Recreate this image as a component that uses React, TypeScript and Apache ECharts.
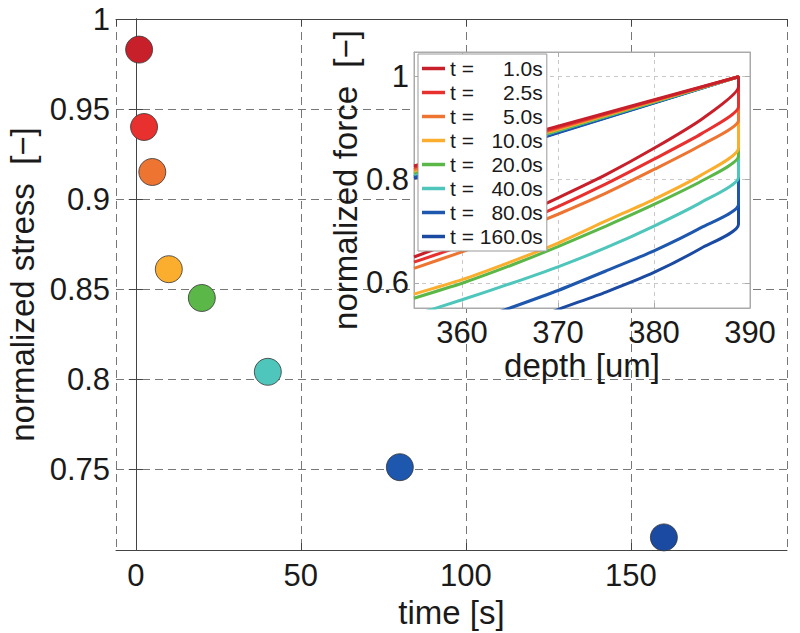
import React, { useEffect, useRef } from "react";
import * as echarts from "echarts";

// ---- main chart data ----
const timeValues = [1, 2.5, 5, 10, 20, 40, 80, 160];
const stressValues = [0.983, 0.94, 0.915, 0.861, 0.845, 0.804, 0.751, 0.712];
const seriesColors = ["#c8202b", "#e8302f", "#ee7432", "#fbad2e", "#5bb848", "#4ec6bb", "#1e57ae", "#1a4aa2"];
const legendLabels = ["t =     1.0s", "t =     2.5s", "t =     5.0s", "t =   10.0s", "t =   20.0s", "t =   40.0s", "t =   80.0s", "t = 160.0s"];

// ---- inset data (normalized force vs depth) ----
const loadDepth = [355, 370, 388.8];
const loadT1 = [0.827, 0.904, 1.0];
const loadT2 = [0.824, 0.902, 1.0];
const loadT5 = [0.82, 0.9, 1.0];
const loadT10 = [0.817, 0.898, 1.0];
const loadT20 = [0.813, 0.896, 1.0];
const loadT40 = [0.81, 0.895, 1.0];
const loadT80 = [0.806, 0.892, 1.0];
const loadT160 = [0.803, 0.891, 1.0];

const unloadDepth = [388.8, 385, 380, 375, 370, 365, 360, 355];
const unloadT1 = [0.98, 0.918, 0.861, 0.81, 0.765, 0.722, 0.685, 0.65];
const unloadT2 = [0.941, 0.89, 0.84, 0.792, 0.748, 0.708, 0.672, 0.64];
const unloadT5 = [0.915, 0.868, 0.82, 0.774, 0.733, 0.695, 0.66, 0.628];
const unloadT10 = [0.861, 0.81, 0.762, 0.72, 0.677, 0.64, 0.606, 0.578];
const unloadT20 = [0.846, 0.798, 0.752, 0.71, 0.67, 0.633, 0.599, 0.57];
const unloadT40 = [0.805, 0.757, 0.71, 0.668, 0.631, 0.598, 0.567, 0.537];
const unloadT80 = [0.752, 0.708, 0.662, 0.623, 0.585, 0.551, 0.518, 0.485];
const unloadT160 = [0.713, 0.668, 0.62, 0.582, 0.548, 0.512, 0.475, 0.44];

const loadSets = [loadT1, loadT2, loadT5, loadT10, loadT20, loadT40, loadT80, loadT160];
const unloadSets = [unloadT1, unloadT2, unloadT5, unloadT10, unloadT20, unloadT40, unloadT80, unloadT160];

const FONT = "Liberation Sans, Arial, Helvetica, sans-serif";
const TXT = "#1a1a1a";

export default function App() {
  const ref = useRef<HTMLDivElement>(null);

  useEffect(() => {
    if (!ref.current) return;
    const chart = echarts.init(ref.current, undefined, { renderer: "svg" });

    const names = legendLabels;

    const insetSeries = names.map((name, i) => {
      const data: number[][] = [];
      loadDepth.forEach((d, k) => data.push([d, loadSets[i][k]]));
      unloadDepth.forEach((d, k) => data.push([d, unloadSets[i][k]]));
      return {
        name,
        type: "line",
        xAxisIndex: 2,
        yAxisIndex: 2,
        symbol: "none",
        showSymbol: false,
        smooth: 0.2,
        clip: true,
        z: 13 - i,
        color: seriesColors[i],
        itemStyle: { color: seriesColors[i] },
        lineStyle: { color: seriesColors[i], width: 3 },
        data,
      };
    });

    const mainAxisLine = { show: true, lineStyle: { color: "#444", width: 1 } };
    const mainTick = { show: true, inside: true, length: 7, lineStyle: { color: "#444" } };
    const mainSplit = { show: true, lineStyle: { color: "#777", type: [8, 5], width: 1 } };
    const insetAxisLine = { show: true, lineStyle: { color: "#aaa", width: 1 } };
    const insetTick = { show: true, inside: true, length: 5, lineStyle: { color: "#aaa" } };
    const insetSplit = { show: true, lineStyle: { color: "#c8c8c8", type: [4, 4], width: 1 } };
    const tickLabel = { fontSize: 31, color: TXT, fontFamily: FONT };
    const nameStyle = { fontSize: 33, color: TXT, fontFamily: FONT };

    const option: any = {
      animation: false,
      backgroundColor: "#fff",
      textStyle: { fontFamily: FONT },
      grid: [
        { left: 116, top: 19, right: 13, bottom: 83, show: false, outerBoundsMode: "none", containLabel: false },
        {
          left: 414, top: 52, width: 336, height: 256, show: true, z: 3,
          backgroundColor: "#fff", borderColor: "#aaa", borderWidth: 1,
          outerBoundsMode: "none", containLabel: false,
        },
      ],
      xAxis: [
        {
          type: "value", gridIndex: 0, position: "bottom", min: -6, max: 197.3,
          minInterval: 50, maxInterval: 50,
          axisLine: mainAxisLine, axisTick: mainTick, splitLine: mainSplit,
          axisLabel: { ...tickLabel, margin: 10, showMinLabel: false, showMaxLabel: false },
          name: "time [s]", nameLocation: "middle", nameGap: 40, nameTextStyle: nameStyle,
        },
        {
          type: "value", gridIndex: 0, position: "top", min: -6, max: 197.3,
          minInterval: 50, maxInterval: 50,
          axisLine: mainAxisLine, axisTick: mainTick, splitLine: { show: false },
          axisLabel: { show: false },
        },
        {
          type: "value", gridIndex: 1, position: "bottom", min: 355, max: 390,
          minInterval: 10, maxInterval: 10, z: 4,
          axisLine: insetAxisLine, axisTick: insetTick, splitLine: insetSplit,
          axisLabel: { ...tickLabel, margin: 9, showMinLabel: false, showMaxLabel: true },
          name: "depth [um]", nameLocation: "middle", nameGap: 36, nameTextStyle: nameStyle,
        },
        {
          type: "value", gridIndex: 1, position: "top", min: 355, max: 390,
          minInterval: 10, maxInterval: 10, z: 4,
          axisLine: insetAxisLine, axisTick: insetTick, splitLine: { show: false },
          axisLabel: { show: false },
        },
      ],
      yAxis: [
        {
          type: "value", gridIndex: 0, position: "left", min: 0.705, max: 1,
          minInterval: 0.05, maxInterval: 0.05,
          axisLine: mainAxisLine, axisTick: mainTick, splitLine: mainSplit,
          axisLabel: { ...tickLabel, margin: 6, showMinLabel: false, showMaxLabel: true },
          name: "normalized stress  [\u2212]", nameLocation: "middle", nameRotate: 90, nameGap: 76,
          nameTextStyle: nameStyle,
        },
        {
          type: "value", gridIndex: 0, position: "right", min: 0.705, max: 1,
          minInterval: 0.05, maxInterval: 0.05,
          axisLine: mainAxisLine, axisTick: mainTick, splitLine: { show: false },
          axisLabel: { show: false },
        },
        {
          type: "value", gridIndex: 1, position: "left", min: 0.551, max: 1.048,
          minInterval: 0.2, maxInterval: 0.2, z: 4,
          axisLine: insetAxisLine, axisTick: insetTick, splitLine: insetSplit,
          axisLabel: { ...tickLabel, margin: 5, showMinLabel: false, showMaxLabel: false },
          name: "normalized force  [\u2212]", nameLocation: "middle", nameRotate: 90, nameGap: 50,
          nameTextStyle: nameStyle,
        },
        {
          type: "value", gridIndex: 1, position: "right", min: 0.551, max: 1.048,
          minInterval: 0.2, maxInterval: 0.2, z: 4,
          axisLine: insetAxisLine, axisTick: insetTick, splitLine: { show: false },
          axisLabel: { show: false },
        },
      ],
      legend: {
        show: true,
        data: names,
        orient: "vertical",
        left: 418,
        top: 54,
        z: 20,
        selectedMode: false,
        icon: "rect",
        itemWidth: 23,
        itemHeight: 3.5,
        itemGap: 3,
        padding: [4, 4, 4, 4],
        backgroundColor: "#fff",
        borderColor: "#999",
        borderWidth: 1,
        borderRadius: 0,
        textStyle: {
          fontFamily: FONT,
          color: TXT,
          fontSize: 21,
          lineHeight: 21,
        },
      },
      series: [
        {
          name: "stress",
          type: "scatter",
          xAxisIndex: 0,
          yAxisIndex: 0,
          symbol: "circle",
          symbolSize: 27,
          z: 2,
          itemStyle: { opacity: 1 },
          data: timeValues.map((t, i) => ({
            value: [t, stressValues[i]],
            itemStyle: { color: seriesColors[i], borderColor: "#333", borderWidth: 0.8, opacity: 1 },
          })),
        },
        ...insetSeries,
      ],
    };

    chart.setOption(option);
    return () => chart.dispose();
  }, []);

  return (
    <div
      ref={ref}
      style={{ position: "absolute", left: 0, top: 0, width: 800, height: 633 }}
    />
  );
}
